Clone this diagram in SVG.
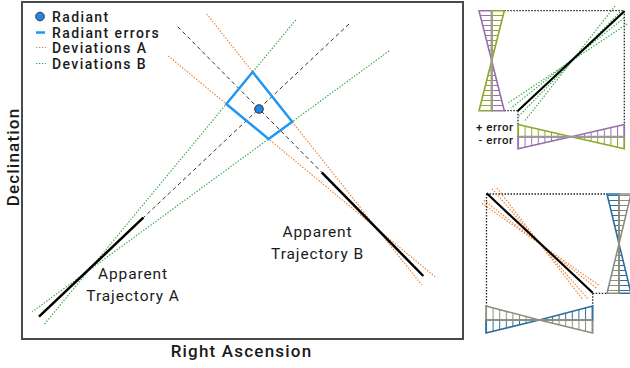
<svg xmlns="http://www.w3.org/2000/svg" width="630" height="368" viewBox="0 0 630 368">
  <style>
    text { font-family: Roboto, "Liberation Sans", sans-serif; fill: #1a1a1a; }
    .legend { font-size: 14px; font-weight: 500; letter-spacing: 1.4px; }
    .label { font-size: 15.5px; font-weight: 400; text-anchor: middle; letter-spacing: 0.9px; }
    .axis { font-size: 17px; font-weight: 500; text-anchor: middle; letter-spacing: 1.2px; }
    .err { font-size: 11.5px; font-weight: 500; text-anchor: end; letter-spacing: 0.5px; }
    .dash { stroke: #333; stroke-width: 1; stroke-dasharray: 4 3; fill: none; }
    .traj { stroke: #000; stroke-width: 2.5; fill: none; }
    .devA { stroke: #ee8030; stroke-width: 1.2; stroke-dasharray: 1.4 1.6; fill: none; }
    .devB { stroke: #3aa848; stroke-width: 1.2; stroke-dasharray: 1.4 1.6; fill: none; }
    .box { stroke: #222; stroke-width: 1.3; stroke-dasharray: 1.5 1.5; fill: none; }
    .err-purple { stroke: #9a70aa; stroke-width: 1.6; }
    .err-olive { stroke: #93a62c; stroke-width: 1.6; }
    .err-blue { stroke: #2f6e9c; stroke-width: 1.6; }
    .err-gray { stroke: #8c8e80; stroke-width: 1.6; }
    .axis-top { stroke: #9a9a9a; stroke-width: 2; }
    .axis-bot { stroke: #8c8e80; stroke-width: 2; }
  </style>
  <defs>
    <!-- hatching: horizontal lines for vertical bars, vertical lines for horizontal bars -->
    <pattern id="hh-purple" patternUnits="userSpaceOnUse" width="10" height="5"><line x1="0" y1="0.5" x2="10" y2="0.5" stroke="#9a70aa" stroke-width="1"/></pattern>
    <pattern id="hh-olive" patternUnits="userSpaceOnUse" width="10" height="5"><line x1="0" y1="0.5" x2="10" y2="0.5" stroke="#93a62c" stroke-width="1"/></pattern>
    <pattern id="hv-purple" patternUnits="userSpaceOnUse" x="518" width="6.6" height="10"><line x1="0.5" y1="0" x2="0.5" y2="10" stroke="#9a70aa" stroke-width="1"/></pattern>
    <pattern id="hv-olive" patternUnits="userSpaceOnUse" x="518" width="6.6" height="10"><line x1="0.5" y1="0" x2="0.5" y2="10" stroke="#93a62c" stroke-width="1"/></pattern>
    <pattern id="hh-blue" patternUnits="userSpaceOnUse" width="10" height="5"><line x1="0" y1="0.5" x2="10" y2="0.5" stroke="#2f6e9c" stroke-width="1"/></pattern>
    <pattern id="hh-gray" patternUnits="userSpaceOnUse" width="10" height="5"><line x1="0" y1="0.5" x2="10" y2="0.5" stroke="#8c8e80" stroke-width="1"/></pattern>
    <pattern id="hv-blue" patternUnits="userSpaceOnUse" x="486" width="6.6" height="10"><line x1="0.5" y1="0" x2="0.5" y2="10" stroke="#2f6e9c" stroke-width="1"/></pattern>
    <pattern id="hv-gray" patternUnits="userSpaceOnUse" x="486" width="6.6" height="10"><line x1="0.5" y1="0" x2="0.5" y2="10" stroke="#8c8e80" stroke-width="1"/></pattern>
  </defs>

  <rect width="630" height="368" fill="#fff"/>

  <!-- plot frame -->
  <rect id="frame" x="22" y="2" width="441" height="337" fill="none" stroke="#4a4a4a" stroke-width="2"/>

  <!-- axis titles -->
  <text class="axis" x="241.5" y="357">Right Ascension</text>
  <text class="axis" transform="translate(19,157) rotate(-90)">Declination</text>

  <!-- legend -->
  <g id="legend">
    <circle cx="40" cy="16.5" r="4.3" fill="#1e88e5" stroke="#333" stroke-width="1"/>
    <text class="legend" x="52" y="21.5">Radiant</text>
    <line x1="36" y1="32.5" x2="45" y2="32.5" stroke="#2196f3" stroke-width="2.5"/>
    <text class="legend" x="52" y="37.5">Radiant errors</text>
    <line class="devA" x1="36" y1="47.5" x2="46" y2="47.5"/>
    <text class="legend" x="52" y="53">Deviations A</text>
    <line class="devB" x1="36" y1="63.5" x2="46" y2="63.5"/>
    <text class="legend" x="52" y="68.5">Deviations B</text>
  </g>

  <!-- deviation lines and extended trajectories -->
  <g id="connectors">
    <line class="devA" x1="206.7" y1="14" x2="421.7" y2="285"/>
    <line class="devA" x1="168.3" y1="56" x2="435" y2="276.7"/>
    <line class="devB" x1="295.7" y1="20" x2="44.3" y2="324.3"/>
    <line class="devB" x1="389" y1="51" x2="32.3" y2="311.7"/>
    <line class="dash" x1="349" y1="24" x2="143.3" y2="217.7"/>
    <line class="dash" x1="177.7" y1="26.7" x2="321.7" y2="172.3"/>
  </g>

  <!-- apparent trajectory A -->
  <g id="trajectory-a">
    <line class="traj" x1="143.3" y1="217.7" x2="39" y2="316.7"/>
    <text class="label" x="133" y="279">Apparent</text>
    <text class="label" x="133" y="300.5">Trajectory A</text>
  </g>

  <!-- apparent trajectory B -->
  <g id="trajectory-b">
    <line class="traj" x1="321.7" y1="172.3" x2="423.3" y2="276"/>
    <text class="label" x="317.5" y="237">Apparent</text>
    <text class="label" x="317.5" y="258.5">Trajectory B</text>
  </g>

  <!-- radiant and its error region -->
  <g id="radiant">
    <polygon points="252.7,72 292.2,121.8 268.6,139 226.3,104" fill="none" stroke="#2196f3" stroke-width="2.5" stroke-linejoin="miter"/>
    <circle cx="259" cy="109" r="4.3" fill="#1e88e5" stroke="#333" stroke-width="1"/>
  </g>

  <!-- inset: errors of trajectory A -->
  <g id="inset-a">
    <line class="box" x1="504.3" y1="10.7" x2="624.3" y2="10.7"/>
    <line class="box" x1="624.3" y1="10.7" x2="624.3" y2="124.5"/>
    <line class="box" x1="504.3" y1="110.7" x2="518" y2="110.7"/>
    <line class="box" x1="518" y1="110.7" x2="518" y2="124.5"/>
    <line class="devB" x1="615" y1="6" x2="525" y2="120.7"/>
    <line class="devB" x1="620" y1="12" x2="519" y2="116"/>
    <line class="devB" x1="624" y1="18" x2="511" y2="108"/>
    <line class="devB" x1="627" y1="24" x2="507.7" y2="103.3"/>
    <line x1="518" y1="110.7" x2="624.3" y2="11.2" stroke="#000" stroke-width="2.2"/>
    <!-- vertical error bar -->
    <polygon class="err-purple" fill="url(#hh-purple)" points="479,10.7 491.7,10.7 491.7,60.7"/>
    <polygon class="err-purple" fill="url(#hh-purple)" points="491.7,60.7 491.7,110.7 504.3,110.7"/>
    <polygon class="err-olive" fill="url(#hh-olive)" points="491.7,10.7 504.3,10.7 491.7,60.7"/>
    <polygon class="err-olive" fill="url(#hh-olive)" points="491.7,60.7 479,110.7 491.7,110.7"/>
    <line class="axis-top" x1="491.7" y1="10.7" x2="491.7" y2="110.7"/>
    <!-- horizontal error bar -->
    <polygon class="err-olive" fill="url(#hv-olive)" points="518,124.5 518,136.7 571.2,136.7"/>
    <polygon class="err-olive" fill="url(#hv-olive)" points="571.2,136.7 624.3,136.7 624.3,148.8"/>
    <polygon class="err-purple" fill="url(#hv-purple)" points="518,136.7 518,148.8 571.2,136.7"/>
    <polygon class="err-purple" fill="url(#hv-purple)" points="571.2,136.7 624.3,124.5 624.3,136.7"/>
    <line class="axis-top" x1="518" y1="136.7" x2="624.3" y2="136.7"/>
    <text class="err" x="513.5" y="131">+ error</text>
    <text class="err" x="513.5" y="143.5">- error</text>
  </g>

  <!-- inset: errors of trajectory B -->
  <g id="inset-b">
    <line class="box" x1="486.5" y1="194" x2="607" y2="194"/>
    <line class="box" x1="486.5" y1="194" x2="486.5" y2="306"/>
    <line class="box" x1="592.7" y1="293.3" x2="607" y2="293.3"/>
    <line class="box" x1="592.7" y1="293.3" x2="592.7" y2="306"/>
    <line class="devA" x1="497" y1="188" x2="582" y2="298.6"/>
    <line class="devA" x1="492" y1="188.8" x2="588" y2="299"/>
    <line class="devA" x1="484" y1="200.3" x2="597" y2="288.5"/>
    <line class="devA" x1="482" y1="203.4" x2="600" y2="286"/>
    <line x1="486.7" y1="193.3" x2="592.7" y2="292.7" stroke="#000" stroke-width="2.2"/>
    <!-- vertical error bar -->
    <polygon class="err-blue" fill="url(#hh-blue)" points="607,194 619,194 619,243.7"/>
    <polygon class="err-blue" fill="url(#hh-blue)" points="619,243.7 619,293.3 631,293.3"/>
    <polygon class="err-gray" fill="url(#hh-gray)" points="619,194 631,194 619,243.7"/>
    <polygon class="err-gray" fill="url(#hh-gray)" points="619,243.7 607,293.3 619,293.3"/>
    <line class="axis-bot" x1="619" y1="194" x2="619" y2="293.3"/>
    <!-- horizontal error bar -->
    <polygon class="err-gray" fill="url(#hv-gray)" points="486,306 486,320 539.3,320"/>
    <polygon class="err-gray" fill="url(#hv-gray)" points="539.3,320 592.7,320 592.7,333"/>
    <polygon class="err-blue" fill="url(#hv-blue)" points="486,320 486,333 539.3,320"/>
    <polygon class="err-blue" fill="url(#hv-blue)" points="539.3,320 592.7,306 592.7,320"/>
    <line class="axis-bot" x1="486" y1="320" x2="592.7" y2="320"/>
  </g>
</svg>
